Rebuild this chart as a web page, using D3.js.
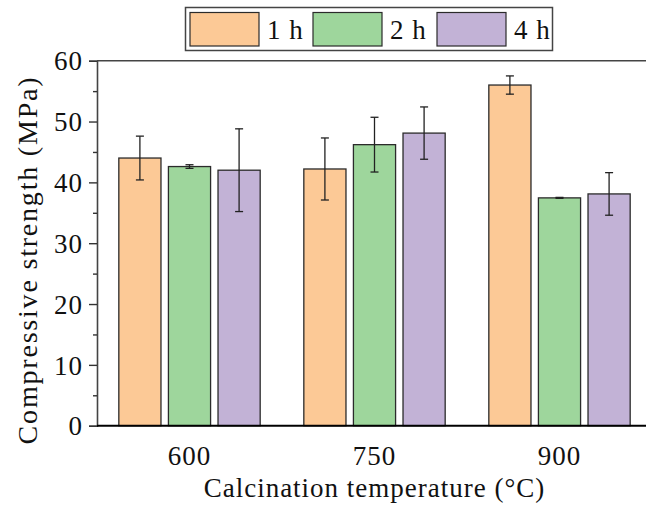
<!DOCTYPE html>
<html>
<head>
<meta charset="utf-8">
<script src="https://cdn.jsdelivr.net/npm/d3@7"></script>
<style>
  html, body { margin: 0; padding: 0; background: #fff; }
  svg { display: block; }
  text { font-family: "Liberation Serif", "Times New Roman", serif; fill: #111; }
</style>
</head>
<body>
<svg id="chart" width="646" height="508"></svg>
<script>
// ---- data ----
const categories = ["600", "750", "900"];
const seriesNames = ["1 h", "2 h", "4 h"];
const values1h = [44.0, 42.2, 56.0];
const values2h = [42.6, 46.2, 37.45];
const values4h = [42.0, 48.1, 38.1];
const err1h = [3.6, 5.1, 1.5];
const err2h = [0.3, 4.5, 0.08];
const err4h = [6.8, 4.3, 3.5];
const yTicks = [0, 10, 20, 30, 40, 50, 60];
const yMinorTicks = [5, 15, 25, 35, 45, 55];
const colors = ["#FCC996", "#9ED69C", "#C2B2D6"];

const seriesValues = [values1h, values2h, values4h];
const seriesErrs = [err1h, err2h, err4h];

// ---- layout ----
const svg = d3.select("#chart");
const mLeft = 97, mRight = 652, mTop = 60.7, mBottom = 425.7;

const x0 = d3.scaleBand().domain(categories).range([mLeft, mRight]).paddingInner(0).paddingOuter(0);
const x1 = d3.scaleBand().domain(seriesNames).range([0, x0.bandwidth()]).paddingInner(0.15).paddingOuter(0.44);
const y = d3.scaleLinear().domain([0, 60]).range([mBottom, mTop]);

const rows = [];
categories.forEach((c, i) => {
  seriesNames.forEach((s, j) => {
    rows.push({ cat: c, ser: s, j: j, v: seriesValues[j][i], e: seriesErrs[j][i] });
  });
});

// bars
const g = svg.append("g");
g.selectAll("rect.bar").data(rows).enter().append("rect")
  .attr("class", "bar")
  .attr("x", d => x0(d.cat) + x1(d.ser))
  .attr("y", d => y(d.v))
  .attr("width", x1.bandwidth())
  .attr("height", d => y(0) - y(d.v))
  .attr("fill", d => colors[d.j])
  .attr("stroke", "#2b2b2b")
  .attr("stroke-width", 1.3);

// error bars
const cap = 4;
const cx = d => x0(d.cat) + x1(d.ser) + x1.bandwidth() / 2;
const eg = g.selectAll("g.err").data(rows).enter().append("g").attr("class", "err")
  .attr("stroke", "#222").attr("stroke-width", 1.3);
eg.append("line")
  .attr("x1", cx).attr("x2", cx)
  .attr("y1", d => y(d.v + d.e)).attr("y2", d => y(d.v - d.e));
eg.append("line")
  .attr("x1", d => cx(d) - cap).attr("x2", d => cx(d) + cap)
  .attr("y1", d => y(d.v + d.e)).attr("y2", d => y(d.v + d.e));
eg.append("line")
  .attr("x1", d => cx(d) - cap).attr("x2", d => cx(d) + cap)
  .attr("y1", d => y(d.v - d.e)).attr("y2", d => y(d.v - d.e));

// top frame line
svg.append("line").attr("x1", mLeft).attr("x2", 646).attr("y1", mTop).attr("y2", mTop)
  .attr("stroke", "#444").attr("stroke-width", 1.6);

// y axis
const yAxis = d3.axisLeft(y).tickValues(yTicks).tickSize(8).tickPadding(6).tickFormat(d3.format("d"));
const ya = svg.append("g").attr("transform", `translate(${mLeft},0)`).call(yAxis);
ya.select(".domain").attr("stroke", "#444").attr("stroke-width", 1.6);
ya.selectAll(".tick line").attr("stroke", "#333").attr("stroke-width", 1.4);
ya.selectAll(".tick text").style("font-size", "27px").style("letter-spacing", "1px")
  .attr("fill", "#111").attr("dy", "0.34em");
const yMinor = d3.axisLeft(y).tickValues(yMinorTicks).tickSize(4).tickFormat("");
const ym = svg.append("g").attr("transform", `translate(${mLeft},0)`).call(yMinor);
ym.select(".domain").remove();
ym.selectAll(".tick line").attr("stroke", "#333").attr("stroke-width", 1.4);

// x axis
const xAxis = d3.axisBottom(x0).tickSize(0).tickPadding(20);
const xa = svg.append("g").attr("transform", `translate(0,${mBottom})`).call(xAxis);
xa.select(".domain").attr("stroke", "#000").attr("stroke-width", 2).attr("d", `M${mLeft},0H646`);
xa.selectAll(".tick text").style("font-size", "27px").style("letter-spacing", "1px").attr("fill", "#111");

// axis titles
svg.append("text").attr("x", 374.5).attr("y", 497).attr("text-anchor", "middle")
  .style("font-size", "27px").style("letter-spacing", "1px")
  .text("Calcination temperature (°C)");
svg.append("text").attr("transform", "translate(37,260) rotate(-90)").attr("text-anchor", "middle")
  .style("font-size", "28px").style("letter-spacing", "1.8px")
  .text("Compressive strength (MPa)");

// legend
const lg = svg.append("g");
lg.append("rect").attr("x", 185.5).attr("y", 7.5).attr("width", 367).attr("height", 43)
  .attr("fill", "#fff").attr("stroke", "#444").attr("stroke-width", 1.5);
const legendX = [190, 313, 437];
seriesNames.forEach((s, j) => {
  lg.append("rect").attr("x", legendX[j]).attr("y", 12.5).attr("width", 69).attr("height", 33.5)
    .attr("fill", colors[j]).attr("stroke", "#2b2b2b").attr("stroke-width", 1.2);
  lg.append("text").attr("x", legendX[j] + 77).attr("y", 38.5)
    .style("font-size", "27px").style("letter-spacing", "1px").text(s);
});
</script>
</body>
</html>
